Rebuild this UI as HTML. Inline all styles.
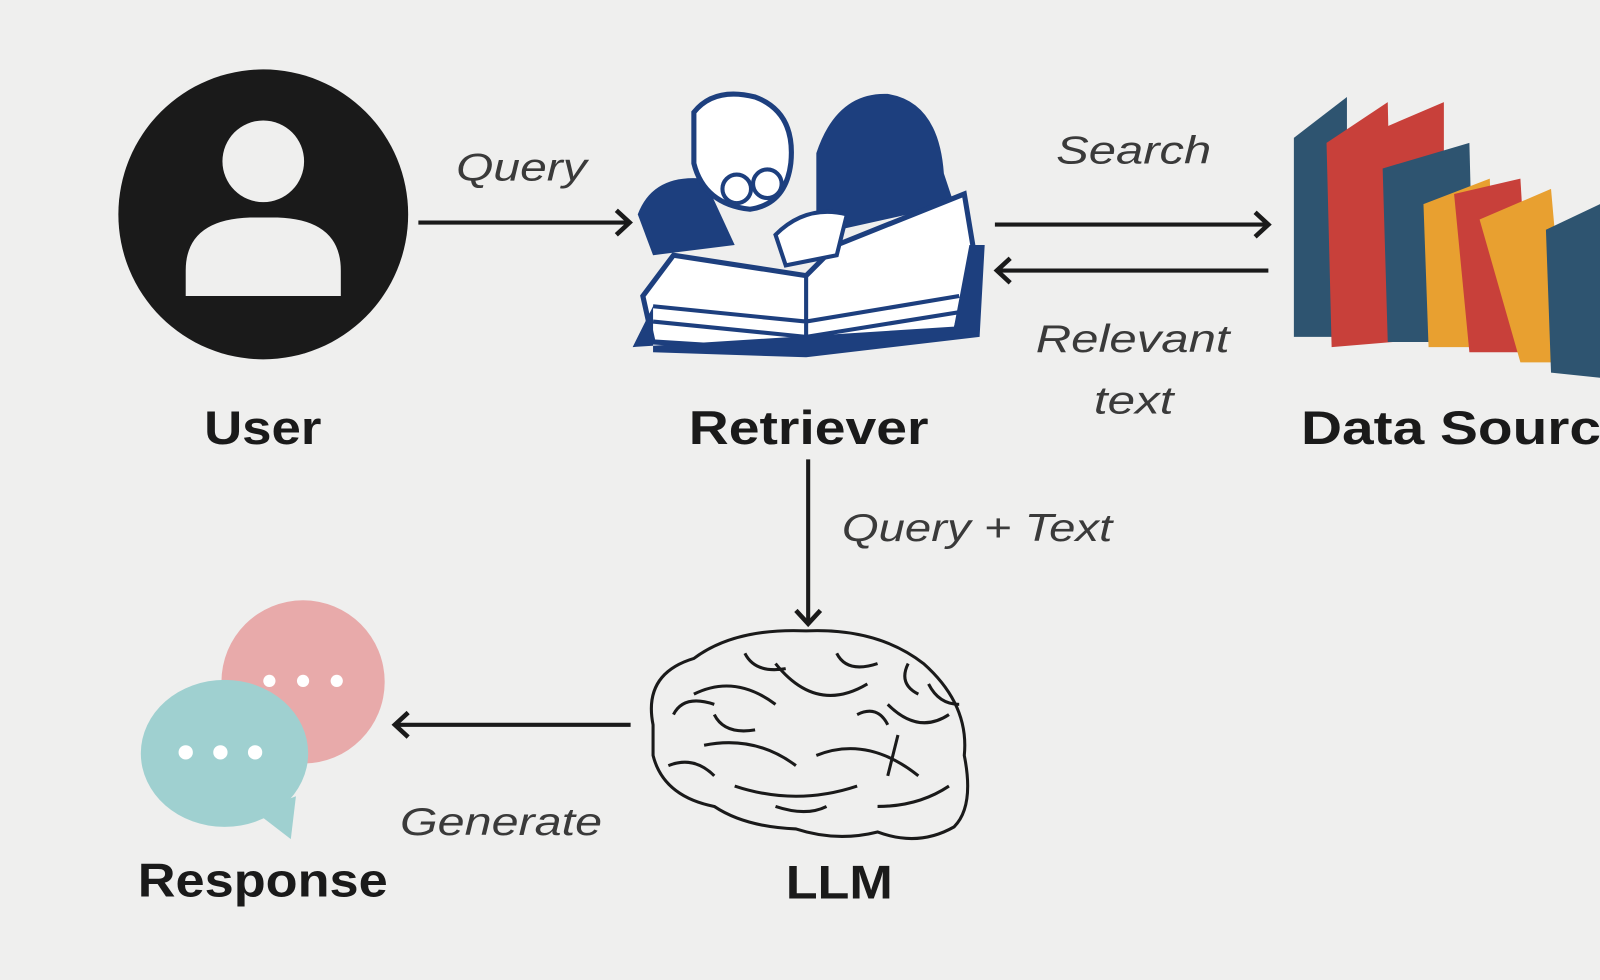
<!DOCTYPE html>
<html><head><meta charset="utf-8"><style>
html,body{margin:0;padding:0;background:#efefee;}
svg{display:block}
text{font-family:"Liberation Sans",sans-serif;}
.lbl{font-weight:bold;font-size:46px;fill:#1a1a1a}
.it{font-style:italic;font-size:38px;fill:#3a3a3a}
</style></head><body>
<svg width="1600" height="980" viewBox="0 0 1568 960" preserveAspectRatio="none" xmlns="http://www.w3.org/2000/svg">
<rect width="1568" height="960" fill="#efefee"/>
<defs>
<marker id="ah" markerWidth="20" markerHeight="30" refX="14" refY="15" orient="auto" markerUnits="userSpaceOnUse">
<path d="M2,3 L15,15 L2,27" fill="none" stroke="#1a1a1a" stroke-width="4.5"/>
</marker>
</defs>
<!-- User -->
<circle cx="258" cy="210" r="142" fill="#1a1a1a"/>
<circle cx="258" cy="158" r="40" fill="#efefee"/>
<path d="M182,290 L182,265 Q182,215 245,213 L272,213 Q334,215 334,265 L334,290 Z" fill="#efefee"/>
<text x="200" y="435" textLength="115" lengthAdjust="spacingAndGlyphs" class="lbl">User</text>
<!-- Query arrow -->
<line x1="410" y1="218" x2="616" y2="218" stroke="#1a1a1a" stroke-width="4" marker-end="url(#ah)"/>
<text x="447" y="177" textLength="128" lengthAdjust="spacingAndGlyphs" class="it">Query</text>
<!-- Retriever illustration -->
<g>
<path d="M800,150 Q820,90 870,92 Q920,100 925,170 L935,200 L800,230 Z" fill="#1d3f7e"/>
<path d="M625,210 Q640,170 690,175 L720,240 L640,250 Z" fill="#1d3f7e"/>
<path d="M680,110 Q700,85 740,95 Q780,110 775,160 Q770,200 735,205 Q690,200 680,160 Z" fill="#fff" stroke="#1d3f7e" stroke-width="5"/>
<circle cx="722" cy="185" r="14" fill="none" stroke="#1d3f7e" stroke-width="4"/>
<circle cx="752" cy="180" r="14" fill="none" stroke="#1d3f7e" stroke-width="4"/>
<path d="M630,290 L660,250 L790,270 L820,240 L945,190 L955,250 L935,330 L800,345 L640,335 Z" fill="#fff" stroke="#1d3f7e" stroke-width="5"/>
<path d="M640,300 L790,315 L940,290 M640,315 L790,330 L945,305 M790,270 L790,340" stroke="#1d3f7e" stroke-width="4" fill="none"/>
<path d="M620,340 L640,300 L640,345 L790,350 L960,330 L965,240 L950,240 L935,320 Z" fill="#1d3f7e"/>
<path d="M760,230 Q790,200 830,210 L820,250 L770,260 Z" fill="#fff" stroke="#1d3f7e" stroke-width="4"/>
</g>
<text x="675" y="435" textLength="235" lengthAdjust="spacingAndGlyphs" class="lbl">Retriever</text>
<!-- Search / Relevant -->
<line x1="975" y1="220" x2="1242" y2="220" stroke="#1a1a1a" stroke-width="4" marker-end="url(#ah)"/>
<text x="1035" y="160" textLength="152" lengthAdjust="spacingAndGlyphs" class="it">Search</text>
<line x1="1243" y1="265" x2="978" y2="265" stroke="#1a1a1a" stroke-width="4" marker-end="url(#ah)"/>
<text x="1015" y="345" textLength="190" lengthAdjust="spacingAndGlyphs" class="it">Relevant</text>
<text x="1072" y="405" textLength="78" lengthAdjust="spacingAndGlyphs" class="it">text</text>
<!-- Books -->
<g>
<path d="M1268,135 L1320,95 L1320,330 L1268,330 Z" fill="#2e5470"/>
<path d="M1300,140 L1360,100 L1365,335 L1305,340 Z" fill="#c8403a"/>
<path d="M1345,130 L1415,100 L1415,330 L1350,330 Z" fill="#c8403a"/>
<path d="M1355,165 L1440,140 L1445,335 L1360,335 Z" fill="#2e5470"/>
<path d="M1395,200 L1460,175 L1465,340 L1400,340 Z" fill="#e8a030"/>
<path d="M1425,190 L1490,175 L1500,345 L1440,345 Z" fill="#c8403a"/>
<path d="M1450,215 L1520,185 L1535,355 L1490,355 Z" fill="#e8a030"/>
<path d="M1515,225 L1568,200 L1568,370 L1520,365 Z" fill="#2e5470"/>
</g>
<text x="1275" y="435" textLength="325" lengthAdjust="spacingAndGlyphs" class="lbl">Data Source</text>
<!-- Query+Text -->
<line x1="792" y1="450" x2="792" y2="610" stroke="#1a1a1a" stroke-width="4" marker-end="url(#ah)"/>
<text x="825" y="530" textLength="265" lengthAdjust="spacingAndGlyphs" class="it">Query + Text</text>
<!-- Brain -->
<g fill="none" stroke="#1a1a1a" stroke-width="3">
<path d="M640,710 Q630,660 680,645 Q720,615 790,618 Q860,615 905,650 Q950,690 945,740 Q955,790 935,810 Q900,830 860,815 Q820,825 780,812 Q730,810 700,790 Q650,780 640,740 Z"/>
<path d="M680,680 Q720,660 760,690 M760,650 Q800,700 850,670 M870,690 Q900,720 930,700 M690,730 Q740,720 780,750 M800,740 Q850,720 900,760 M720,770 Q780,790 840,770 M860,790 Q900,790 930,770 M700,700 Q710,720 740,715 M820,640 Q830,660 860,650 M880,720 L870,760 M660,700 Q670,680 700,690 M655,750 Q680,740 700,760 M910,670 Q920,690 940,690 M730,640 Q740,660 770,655 M840,700 Q860,690 870,710 M760,790 Q790,800 810,790 M890,650 Q880,670 900,680"/>
</g>
<text x="770" y="880" textLength="105" lengthAdjust="spacingAndGlyphs" class="lbl">LLM</text>
<!-- Generate -->
<line x1="618" y1="710" x2="388" y2="710" stroke="#1a1a1a" stroke-width="4" marker-end="url(#ah)"/>
<text x="392" y="818" textLength="198" lengthAdjust="spacingAndGlyphs" class="it">Generate</text>
<!-- Response bubbles -->
<circle cx="297" cy="668" r="80" fill="#e8aaaa"/>
<circle cx="264" cy="667" r="6" fill="#fff"/><circle cx="297" cy="667" r="6" fill="#fff"/><circle cx="330" cy="667" r="6" fill="#fff"/>
<ellipse cx="220" cy="738" rx="82" ry="72" fill="#9fd0d0"/>
<path d="M250,795 L285,822 L290,780 Z" fill="#9fd0d0"/>
<circle cx="182" cy="737" r="7" fill="#fff"/><circle cx="216" cy="737" r="7" fill="#fff"/><circle cx="250" cy="737" r="7" fill="#fff"/>
<text x="135" y="878" textLength="245" lengthAdjust="spacingAndGlyphs" class="lbl">Response</text>
</svg>
</body></html>
